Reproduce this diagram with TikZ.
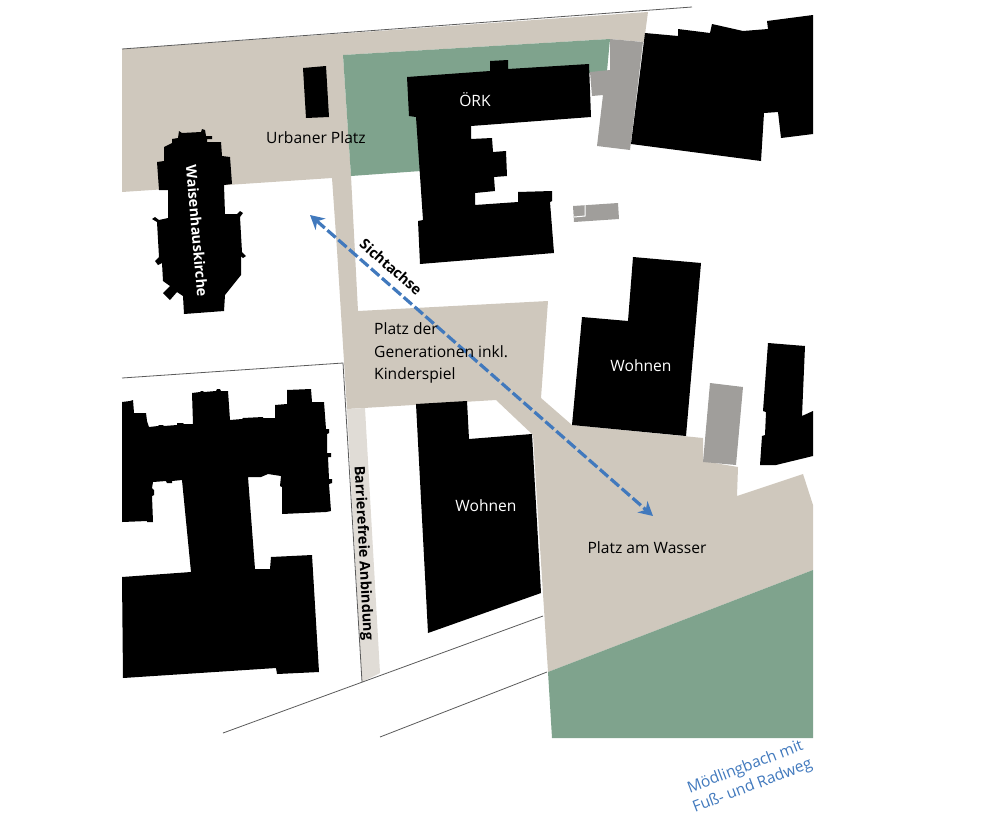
\documentclass[tikz,border=0pt]{standalone}
\usepackage{fontspec}
\setmainfont{Open Sans}
\usetikzlibrary{arrows.meta}
\definecolor{platzbeige}{HTML}{CFC8BD}
\definecolor{wiesegruen}{HTML}{7FA38D}
\definecolor{rampegrau}{HTML}{E0DCD6}
\definecolor{nebengrau}{HTML}{A09E9B}
\definecolor{achsblau}{HTML}{4179BD}
\definecolor{liniegrau}{HTML}{5A5A5A}
\begin{document}
\begin{tikzpicture}[
  x=1pt, y=-1pt,
  platz/.style={fill=platzbeige},
  wiese/.style={fill=wiesegruen},
  neben/.style={fill=nebengrau},
  haus/.style={fill=black},
  strasse/.style={draw=liniegrau, line width=0.8pt},
  achse/.style={draw=achsblau, line width=3.2pt, dash pattern=on 11pt off 3.5pt,
    {Stealth[length=14pt,width=15pt]}-{Stealth[length=14pt,width=15pt]}},
  label/.style={font=\fontsize{15.6}{22.5}\selectfont, inner sep=0pt},
  fettlabel/.style={font=\fontsize{14.4}{22}\selectfont\bfseries, inner sep=0pt},
]
  \useasboundingbox (0,0) rectangle (1000,825);

  % Flaechen
  \fill[platz] (122,49) -- (648,12) -- (644,42) -- (610,39) -- (343,55) -- (351,176)
    -- (358,311) -- (548,301) -- (541,398) -- (572,425) -- (703,438) -- (703,461)
    -- (738,467) -- (737,496) -- (803,474) -- (813,505) -- (813,570) -- (548,672)
    -- (537,500) -- (533,435) -- (496,400) -- (347,409) -- (337,250) -- (332,178)
    -- (122,192) -- cycle;
  \fill[fill=rampegrau] (347,409) -- (365,408) -- (380,673) -- (362,682) -- cycle;
  \fill[wiese] (343,55) -- (610,39) -- (607,71) -- (590,73) -- (500,100) -- (430,110)
    -- (421,171) -- (351,176) -- cycle;
  \fill[wiese] (548,672) -- (813,570) -- (813,738) -- (552,738) -- cycle;

  % Nebengebaeude
  \fill[neben] (590,72) -- (610,70) -- (610,39) -- (643,42) -- (630,150) -- (597,146)
    -- (603,95) -- (592,96) -- cycle;
  \fill[neben] (710,383) -- (743,387) -- (736,465) -- (703,462) -- cycle;
  \fill[neben] (573,206) -- (618,203) -- (619,219) -- (574,222) -- cycle;
  \draw[white, line width=1pt] (585,205) -- (585,216) -- (574,217);

  % Gebaeude
  \fill[haus] (303,68) -- (326,66) -- (329,117) -- (306,118) -- cycle;
  \fill[haus] (179,131) -- (182,133) -- (201,132) -- (202,129) -- (205,130) -- (206,136)
    -- (212,136) -- (212,139) -- (207,139) -- (207,142) -- (221,142) -- (222,156)
    -- (230,157) -- (232,184) -- (224,185) -- (225,214) -- (237,214) -- (240,211)
    -- (243,213) -- (240,217) -- (242,252) -- (246,256) -- (243,258) -- (241,256)
    -- (241,275) -- (225,295) -- (224,311) -- (184,314) -- (183,296) -- (177,292)
    -- (170,300) -- (163,293) -- (170,286) -- (163,281) -- (162,263) -- (158,265)
    -- (155,261) -- (159,257) -- (157,222) -- (152,219) -- (155,217) -- (159,220)
    -- (168,218) -- (168,190) -- (159,190) -- (157,162) -- (164,161) -- (164,147)
    -- (172,143) -- (172,139) -- (178,138) -- cycle;
  \fill[haus] (407,77) -- (490,71) -- (490,61) -- (508,60) -- (508,69) -- (589,64)
    -- (591,117) -- (471,126) -- (471,139) -- (492,138) -- (493,152) -- (506,151)
    -- (507,176) -- (494,177) -- (495,191) -- (475,193) -- (475,205) -- (518,202)
    -- (518,192) -- (552,191) -- (552,201) -- (550,202) -- (554,253) -- (420,264)
    -- (418,221) -- (423,220) -- (416,117) -- (409,116) -- cycle;
  \fill[haus] (645,33) -- (678,36) -- (678,29) -- (710,33) -- (712,24) -- (743,31)
    -- (768,29) -- (767,21) -- (813,15) -- (813,134) -- (781,138) -- (778,112)
    -- (764,113) -- (761,161) -- (631,144) -- cycle;
  \fill[haus] (633,257) -- (701,263) -- (686,436) -- (572,425) -- (582,317) -- (628,321) -- cycle;
  \fill[haus] (768,343) -- (805,346) -- (802,416) -- (813,411) -- (813,456) -- (776,465)
    -- (760,465) -- (762,436) -- (765,435) -- (766,412) -- (763,411) -- cycle;
  \fill[haus] (416,404) -- (467,401) -- (469,439) -- (532,434) -- (541,593) -- (428,633) -- cycle;
  \fill[haus] (122,402) -- (130,401) -- (133,400) -- (134,413) -- (146,413) -- (147,421)
    -- (149,427) -- (158,426) -- (159,425) -- (163,425) -- (164,426) -- (177,425)
    -- (177,423) -- (183,423) -- (184,424) -- (193,424) -- (192,393) -- (200,392)
    -- (201,391) -- (203,391) -- (204,392) -- (216,391) -- (217,389) -- (220,389)
    -- (221,391) -- (228,391) -- (230,420) -- (242,419) -- (243,418) -- (263,417)
    -- (263,418) -- (275,418) -- (275,405) -- (287,404) -- (287,390) -- (311,389)
    -- (312,402) -- (324,402) -- (326,429) -- (329,429) -- (329,433) -- (327,434)
    -- (327,453) -- (331,453) -- (331,457) -- (328,457) -- (329,479) -- (332,479)
    -- (332,483) -- (329,484) -- (331,511) -- (326,512) -- (282,514) -- (282,487)
    -- (280,486) -- (281,476) -- (268,474) -- (261,477) -- (248,477) -- (255,569)
    -- (270,569) -- (271,557) -- (312,555) -- (319,672) -- (277,674) -- (276,668)
    -- (123,678) -- (122,577) -- (191,572) -- (182,480) -- (172,481) -- (172,483)
    -- (167,483) -- (166,481) -- (153,482) -- (152,488) -- (154,490) -- (154,495)
    -- (152,496) -- (153,522) -- (147,522) -- (147,521) -- (122,522) -- cycle;

  % Strassenkanten
  \coordinate (nordA) at (122,49);
  \coordinate (nordB) at (692,7);
  \coordinate (grenzeA) at (122,378);
  \coordinate (grenzeB) at (343,363);
  \coordinate (grenzeC) at (362,682);
  \coordinate (suedA) at (223,733);
  \coordinate (suedB) at (543,616);
  \coordinate (bachA) at (380,737);
  \coordinate (bachB) at (547,672);
  \draw[strasse] (nordA) -- (nordB);
  \draw[strasse] (grenzeA) -- (grenzeB) -- (grenzeC);
  \draw[strasse] (suedA) -- (suedB);
  \draw[strasse] (bachA) -- (bachB);

  % Sichtachse
  \coordinate (achseA) at (310,215);
  \coordinate (achseB) at (653,516);
  \draw[achse] (achseA) -- (achseB);

  % Beschriftung
  \node[label] (urbaner) at (316,138) {Urbaner Platz};
  \node[label, white] (oerk) at (475,100) {ÖRK};
  \node[fettlabel, white, rotate=-85] (kirche) at (197,231) {Waisenhauskirche};
  \node[fettlabel, rotate=-41] (sicht) at (391,267) {Sichtachse};
  \node[label, align=left, anchor=west] (generationen) at (374,353) {Platz der\\Generationen inkl.\\Kinderspiel};
  \node[label, white] (wohnenA) at (641,366) {Wohnen};
  \node[label, white] (wohnenB) at (486,506) {Wohnen};
  \node[fettlabel, rotate=-87] (rampe) at (363,553) {Barrierefreie Anbindung};
  \node[label] (wasser) at (647,548) {Platz am Wasser};
  \node[label, achsblau, align=center, rotate=21, font=\fontsize{15.6}{20}\selectfont] (bach) at (749,777) {Mödlingbach mit\\Fuß- und Radweg};
\end{tikzpicture}
\end{document}
